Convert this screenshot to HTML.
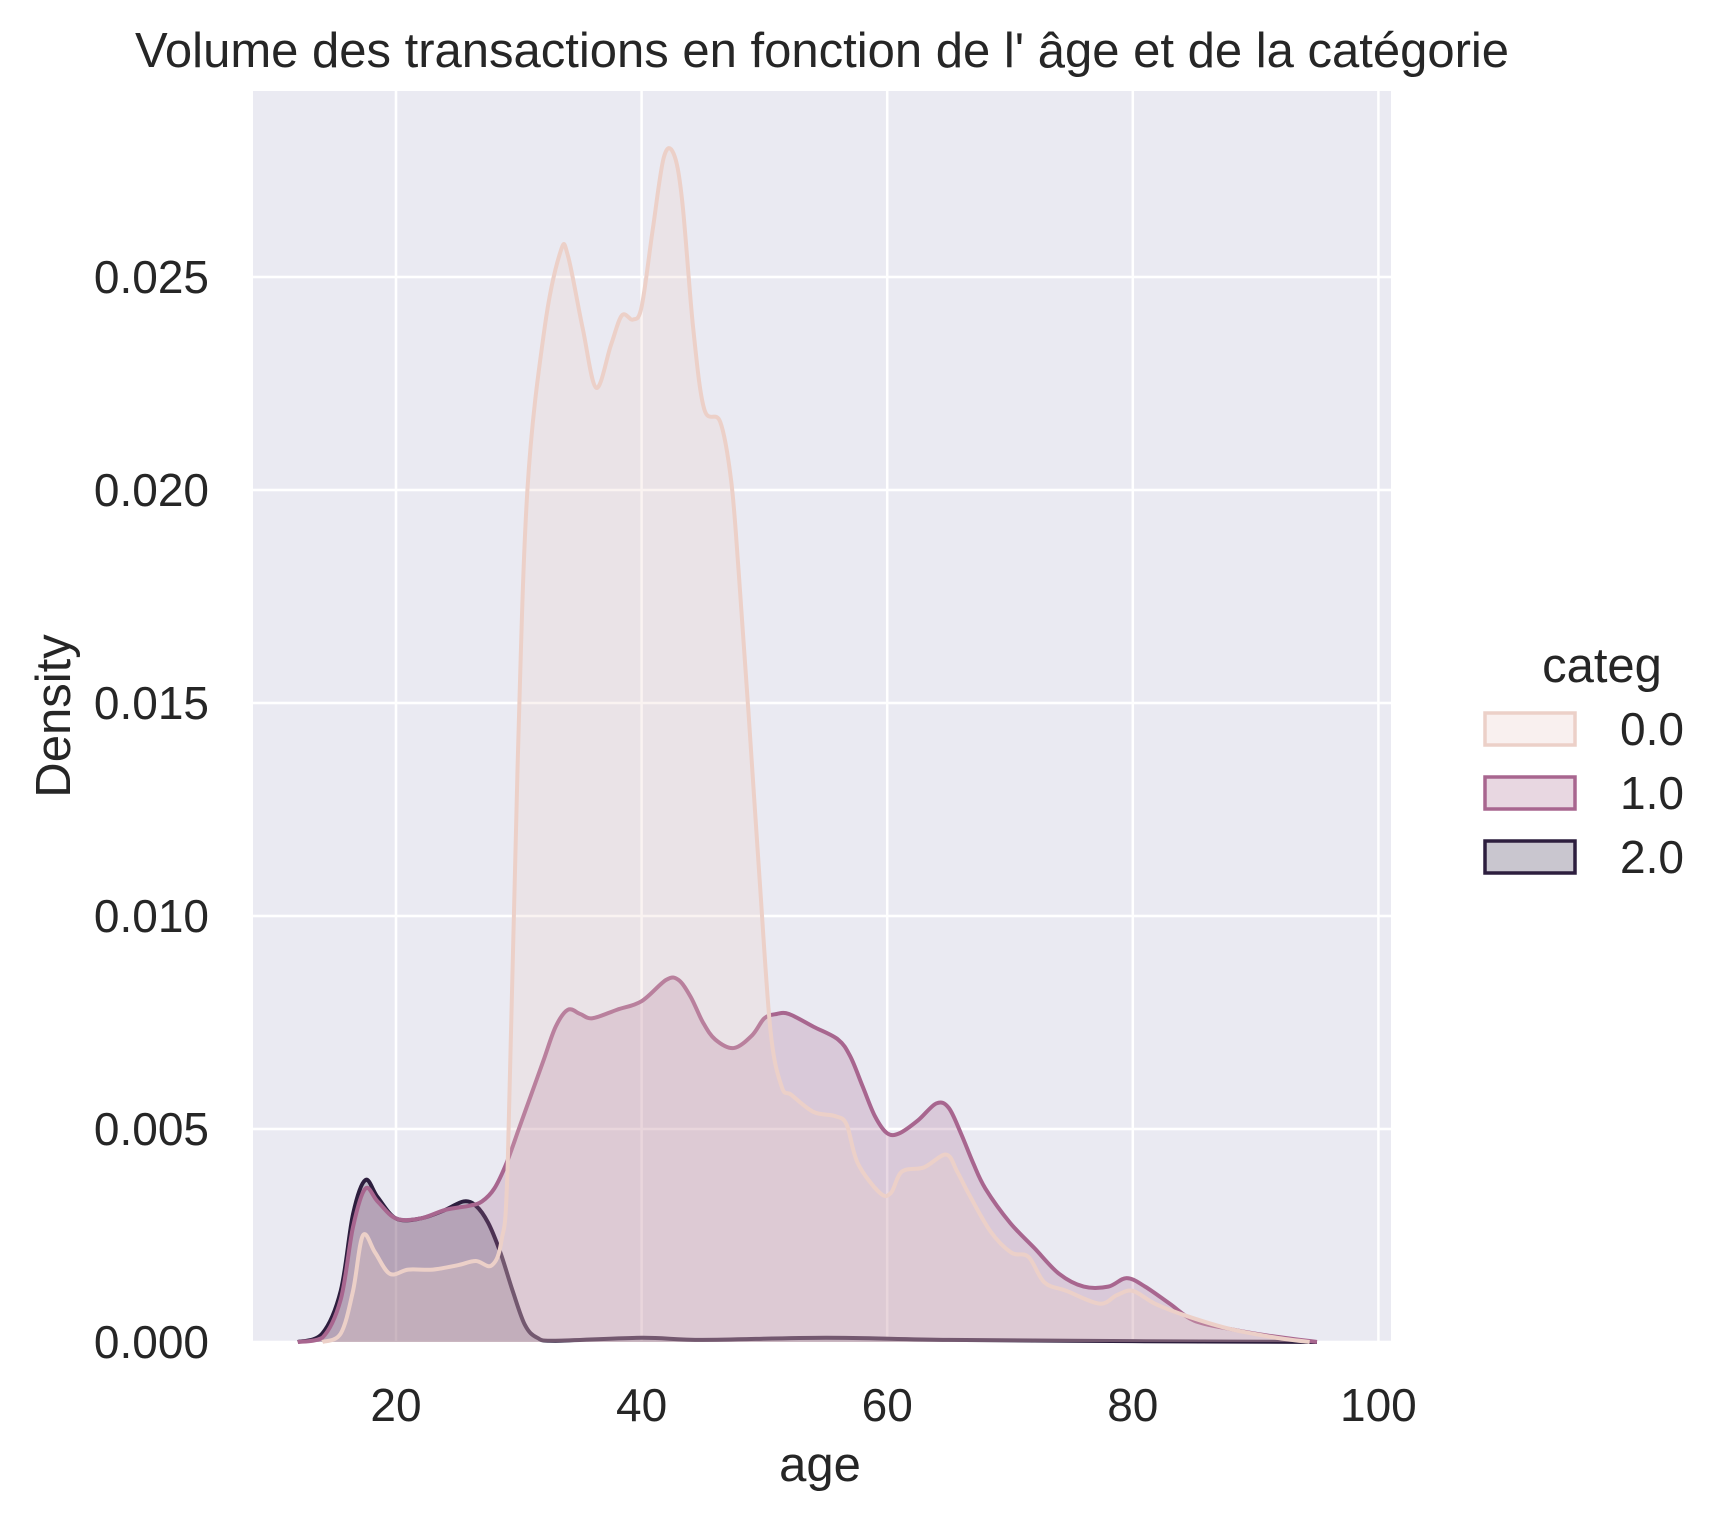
<!DOCTYPE html>
<html><head><meta charset="utf-8"><style>
html,body{margin:0;padding:0;background:#fff;}
svg{display:block;font-family:"Liberation Sans",sans-serif;}
</style></head><body>
<svg id="chart" width="1716" height="1517" viewBox="0 0 1716 1517" xmlns="http://www.w3.org/2000/svg">
<rect x="253" y="91" width="1138" height="1251" fill="#eaeaf2"/>
<g id="grid"></g>
<g id="series"></g>
<g id="ticks"></g>
<text x="822" y="67" font-size="49" text-anchor="middle" fill="#262626">Volume des transactions en fonction de l' âge et de la catégorie</text>
<text x="820" y="1481" font-size="49" text-anchor="middle" fill="#262626">age</text>
<text transform="translate(70,716) rotate(-90)" font-size="49" text-anchor="middle" fill="#262626">Density</text>
<g>
<text x="1602" y="682" font-size="49" text-anchor="middle" fill="#262626">categ</text>
<g><rect x="1485" y="713" width="90" height="32" fill="#f9f0ef" stroke="#ecd0c8" stroke-width="3.5"/><text x="1620" y="745" font-size="46" fill="#262626">0.0</text></g>
<g><rect x="1485" y="777" width="90" height="32" fill="#e8d7e1" stroke="#a8668f" stroke-width="3.5"/><text x="1620" y="809" font-size="46" fill="#262626">1.0</text></g>
<g><rect x="1485" y="841" width="90" height="32" fill="#c9c6cf" stroke="#2d1e3e" stroke-width="3.5"/><text x="1620" y="873" font-size="46" fill="#262626">2.0</text></g>
</g>
</svg>
<script>
const xTicks=[20,40,60,80,100];
const yTicks=[0,0.005,0.010,0.015,0.020,0.025];
const yTickLabels=["0.000","0.005","0.010","0.015","0.020","0.025"];
const ages0=[14,15.5,16.5,17.3,18.3,19.5,21,23,25,26.5,27.8,28.6,29.1,29.9,30.7,32.1,33.4,34,35.2,36.3,37.5,38.4,39.3,40,40.9,41.8,42.6,43.3,44.2,45.1,46.4,47.3,47.9,48.7,49.6,50.5,51.4,52.2,54,55.8,56.7,57.6,59.4,60.3,61.2,63,64.8,65.7,66.6,68.4,70.1,71.5,72.8,74.6,77.3,78.7,80,81.8,84.5,88,91.7,94.4];
const dens0=[0,0.0002,0.0012,0.0025,0.0021,0.0016,0.0017,0.0017,0.0018,0.0019,0.0018,0.0024,0.0042,0.0135,0.0200,0.0238,0.0256,0.0255,0.0238,0.0224,0.0234,0.0241,0.0240,0.0243,0.0261,0.0278,0.0279,0.0268,0.0238,0.0219,0.0216,0.0202,0.0181,0.0148,0.0109,0.0073,0.0060,0.0058,0.0054,0.0053,0.0051,0.0042,0.0035,0.0035,0.0040,0.0041,0.0044,0.0040,0.0035,0.0026,0.0021,0.0020,0.0014,0.0012,0.0009,0.0011,0.0012,0.0009,0.0006,0.0003,0.0001,0];
const ages1=[12,14,15.5,16.5,17.5,18.5,20,22,24,26,27,28,29,30,31,32,33,34,35,36,38,40,42,43,44,45,46,47.5,49,50,51,52,54,56,57,58,59,60,61,62.5,64,65,66,67,68,70,72,74,76,78,79.5,81,83,85,88,91,95];
const dens1=[0,0.0001,0.001,0.0027,0.0036,0.0033,0.0029,0.0029,0.0031,0.0032,0.0033,0.0036,0.0042,0.005,0.0058,0.0066,0.0074,0.0078,0.0077,0.0076,0.0078,0.0080,0.0085,0.0085,0.0081,0.0075,0.0071,0.0069,0.0072,0.0076,0.0077,0.0077,0.0074,0.0071,0.0067,0.0060,0.0053,0.0049,0.0049,0.0052,0.0056,0.0055,0.0049,0.0042,0.0036,0.0028,0.0022,0.0016,0.0013,0.0013,0.0015,0.0013,0.0009,0.0005,0.0003,0.00015,0];
const ages2=[12,14,15.5,16.5,17.5,18.5,20,22,24,25.5,26.5,27.5,28.5,29.5,30.5,31.5,33,40,45,55,65,80,95];
const dens2=[0,0.0002,0.0012,0.003,0.0038,0.0034,0.0029,0.0029,0.0031,0.0033,0.0032,0.0028,0.0021,0.0012,0.0004,0.0001,0.00003,0.0001,0.00005,0.0001,0.00005,0.00002,0];
const L=253,R=1391,T=91,B=1342;
const x=a=>396+(a-20)*12.28;
const y=d=>B-d*(B-277)/0.025;
const NS="http://www.w3.org/2000/svg";
function mk(t,at,p){const e=document.createElementNS(NS,t);for(const k in at)e.setAttribute(k,at[k]);p.appendChild(e);return e;}
const grid=document.getElementById('grid'),ticks=document.getElementById('ticks'),ser=document.getElementById('series');
xTicks.forEach(v=>{
 const l=mk('line',{x1:x(v),x2:x(v),y1:T,y2:B,stroke:'#fff','stroke-width':2.5},grid);
 
 
 const t=mk('text',{x:x(v),y:1421,'font-size':46,'text-anchor':'middle',fill:'#262626'},ticks);t.textContent=v;
 
 
});
yTicks.forEach((v,i)=>{
 const l=mk('line',{x1:L,x2:R,y1:y(v),y2:y(v),stroke:'#fff','stroke-width':2.5},grid);
 
 
 const t=mk('text',{x:209,y:y(v)+16,'font-size':46,'text-anchor':'end',fill:'#262626'},ticks);t.textContent=yTickLabels[i];
 
 
});
function pathD(ax,dy){
 const p=ax.map((a,i)=>[x(a),y(dy[i])]);
 let d='M'+p[0][0]+','+p[0][1];
 for(let i=0;i<p.length-1;i++){
  const p0=p[i-1]||p[i],p1=p[i],p2=p[i+1],p3=p[i+2]||p2;
  let c1y=p1[1]+(p2[1]-p0[1])/6,c2y=p2[1]-(p3[1]-p1[1])/6;
  c1y=Math.min(c1y,B);c2y=Math.min(c2y,B);
  d+=' C'+(p1[0]+(p2[0]-p0[0])/6)+','+c1y+' '+(p2[0]-(p3[0]-p1[0])/6)+','+c2y+' '+p2[0]+','+p2[1];
 }
 return d;
}
const series=[[ages2,dens2,'#2d1e3e','series-categ-2'],[ages1,dens1,'#a8668f','series-categ-1'],[ages0,dens0,'#ecd0c8','series-categ-0']];
series.forEach(s=>{
 const d=pathD(s[0],s[1]);
 const f=mk('path',{d:d+' L'+x(s[0][s[0].length-1])+','+B+' L'+x(s[0][0])+','+B+' Z',fill:s[2],'fill-opacity':0.25,stroke:'none'},ser);
 
 
 const l=mk('path',{d:d,fill:'none',stroke:s[2],'stroke-width':4,'stroke-linejoin':'round'},ser);
 
 
});
</script>
</body></html>
